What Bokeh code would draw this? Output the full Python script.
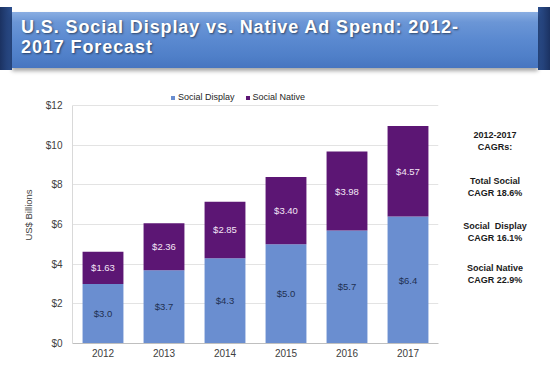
from bokeh.plotting import figure
from bokeh.models import ColumnDataSource, Legend, FactorRange, Range1d, NumeralTickFormatter, FixedTicker, Div
from bokeh.layouts import column, row
from bokeh.core.properties import value
from bokeh.embed import file_html
from bokeh.resources import INLINE

years = ["2012", "2013", "2014", "2015", "2016", "2017"]
social_display = [3.0, 3.7, 4.3, 5.0, 5.7, 6.4]
social_native = [1.63, 2.36, 2.85, 3.40, 3.98, 4.57]
display_labels = ["$3.0", "$3.7", "$4.3", "$5.0", "$5.7", "$6.4"]
native_labels = ["$1.63", "$2.36", "$2.85", "$3.40", "$3.98", "$4.57"]
y_ticks = [0, 2, 4, 6, 8, 10, 12]
title_lines = ["U.S. Social Display vs. Native Ad Spend: 2012-", "2017 Forecast"]
cagr_blocks = [("2012-2017", "CAGRs:"), ("Total Social", "CAGR 18.6%"),
               ("Social&nbsp; Display", "CAGR 16.1%"), ("Social Native", "CAGR 22.9%")]

FONT = "Liberation Sans"
C_DISPLAY = "#6A8ED0"
C_NATIVE = "#5C1674"

# ---------- title band ----------
title_html = f"""
<div style="position:relative;width:550px;height:76px;font-family:'Liberation Sans',Arial,sans-serif;">
  <div style="position:absolute;left:0;top:7px;width:12px;height:63px;
       background:linear-gradient(to right,#1b3262,#2c4f8e);"></div>
  <div style="position:absolute;left:538px;top:7px;width:12px;height:63px;
       background:linear-gradient(to left,#1b3262,#2c4f8e);"></div>
  <div style="position:absolute;left:12px;top:12px;width:526px;height:56px;
       background:linear-gradient(to bottom,#8aaee2 0%,#6b96d6 18%,#5a89d0 50%,#4f7fc8 80%,#4775c0 100%);
       box-shadow:0 3px 4px rgba(0,0,0,0.35);">
    <div style="padding:5px 0 0 9px;color:white;font-weight:bold;font-size:18px;line-height:20px;
         letter-spacing:0.9px;white-space:nowrap;text-shadow:1px 1px 2px rgba(0,0,0,0.5);">
      {title_lines[0]}<br>{title_lines[1]}
    </div>
  </div>
</div>
"""
title_div = Div(text=title_html, width=550, height=76, margin=0)

# ---------- chart ----------
src = ColumnDataSource(dict(
    years=years,
    display=social_display,
    native=social_native,
    dlab=display_labels,
    nlab=native_labels,
    dmid=[d / 2 for d in social_display],
    nmid=[d + n / 2 for d, n in zip(social_display, social_native)],
))

p = figure(x_range=FactorRange(*years, range_padding=0), y_range=Range1d(0, 12.96),
           width=440, height=291, output_backend="svg", toolbar_location=None,
           min_border_left=72, min_border_right=2, min_border_top=10, min_border_bottom=24,
           margin=0)
p.outline_line_color = None
p.background_fill_color = "white"

r = p.vbar_stack(["display", "native"], x="years", width=0.67, color=[C_DISPLAY, C_NATIVE],
                 line_color=None, source=src)

p.text(x="years", y="dmid", text="dlab", source=src, text_align="center", text_baseline="middle",
       text_font=value(FONT), text_font_size="9.5px", text_color="#1F3050")
p.text(x="years", y="nmid", text="nlab", source=src, text_align="center", text_baseline="middle",
       text_font=value(FONT), text_font_size="9.5px", text_color="#F4E6F6")

p.yaxis.ticker = FixedTicker(ticks=y_ticks)
p.yaxis.formatter = NumeralTickFormatter(format="$0")
p.yaxis.bounds = (0, 12)
p.yaxis.axis_label = "US$ Billions"
p.yaxis.axis_label_text_font = FONT
p.yaxis.axis_label_text_font_style = "normal"
p.yaxis.axis_label_text_font_size = "9.5px"
p.yaxis.axis_label_text_color = "#404040"
p.yaxis.axis_label_standoff = 9
p.yaxis.axis_line_color = "#D9D9D9"
for ax in (p.xaxis, p.yaxis):
    ax.major_label_text_font = FONT
    ax.major_label_text_font_size = "10px"
    ax.major_label_text_color = "#404040"
    ax.major_tick_line_color = None
    ax.minor_tick_line_color = None
    ax.major_tick_out = 0
    ax.major_tick_in = 0
p.yaxis.major_label_standoff = 10
p.xaxis.major_label_standoff = 5
p.xaxis.axis_line_color = "#BFBFBF"
p.xgrid.grid_line_color = None
p.ygrid.grid_line_color = "#E3E3E3"
p.ygrid.bounds = (0, 12)

legend = Legend(items=[("Social Display", [r[0]]), ("Social Native", [r[1]])],
                orientation="horizontal", location=(98, 241), margin=0, padding=3,
                border_line_color=None, background_fill_alpha=0,
                glyph_width=5, glyph_height=5, label_height=10, label_standoff=3, spacing=10,
                label_text_font=FONT, label_text_font_size="9px", label_text_color="#262626")
p.add_layout(legend, "center")

# ---------- CAGR notes ----------
tops = [53, 99, 144, 186]
blocks_html = "".join(
    f'<div style="position:absolute;left:0;top:{t}px;width:110px;text-align:center;">{a}<br>{b}</div>'
    for (a, b), t in zip(cagr_blocks, tops))
cagr_div = Div(text=f"""
<div style="position:relative;width:110px;height:291px;font-family:'Liberation Sans',Arial,sans-serif;
     font-weight:bold;font-size:9px;line-height:12px;color:#1a1a1a;">{blocks_html}</div>
""", width=110, height=291, margin=0)

layout = column(title_div, row(p, cagr_div, spacing=0, margin=0), spacing=0, margin=0)
open("out.html", "w").write(file_html(layout, INLINE))
